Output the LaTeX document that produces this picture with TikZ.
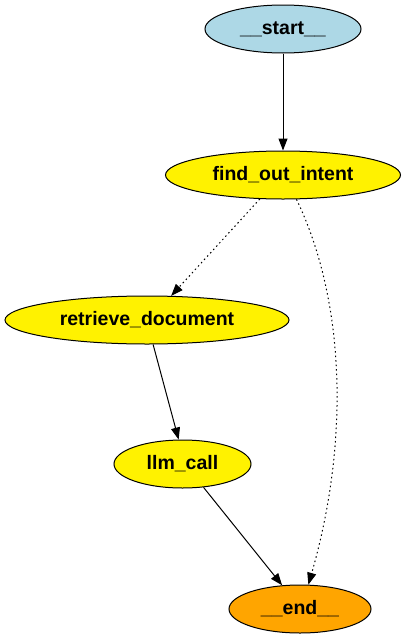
\documentclass[tikz,border=0pt]{standalone}
\usepackage{fontspec}
\setmainfont{Liberation Sans}
\usetikzlibrary{shapes.geometric,arrows.meta}
\definecolor{startblue}{HTML}{ADD8E6}
\definecolor{endorange}{HTML}{FFA500}
\newcommand{\nolbl}[1]{\makebox[0pt][c]{#1}}
\begin{document}
\begin{tikzpicture}[x=1pt,y=-1pt,
  gnode/.style={ellipse,draw=black,line width=1pt,inner sep=0pt,
    minimum height=48pt,font=\fontsize{19.5}{22}\selectfont\bfseries},
  edge/.style={line width=1pt,-{Triangle[length=12pt,width=9pt]}},
  dotedge/.style={edge,dash pattern=on 1.5pt off 3pt}]
\useasboundingbox (0,0) rectangle (406,640);
\node[gnode,fill=startblue,minimum width=156pt] (st) at (283,29) {\nolbl{\_\_start\_\_}};
\node[gnode,fill=yellow,minimum width=235pt] (fo) at (283,175) {\nolbl{find\_out\_intent}};
\node[gnode,fill=yellow,minimum width=284pt] (rd) at (147,320) {\nolbl{retrieve\_document}};
\node[gnode,fill=yellow,minimum width=137pt] (lc) at (182.5,464) {\nolbl{llm\_call}};
\node[gnode,fill=endorange,minimum width=142pt] (en) at (300,609) {\nolbl{\_\_end\_\_}};
\coordinate (c1) at (345,300);
\coordinate (c2) at (350,440);
\draw[edge] (st) -- (fo);
\draw[dotedge] (fo.-134.4) -- (rd.45.9);
\draw[dotedge] (fo.-61.4) .. controls (c1) and (c2) .. (en.71.5);
\draw[edge] (rd.-76) -- (lc.99.5);
\draw[edge] (lc.-48.9) -- (en.127.8);
\end{tikzpicture}
\end{document}
